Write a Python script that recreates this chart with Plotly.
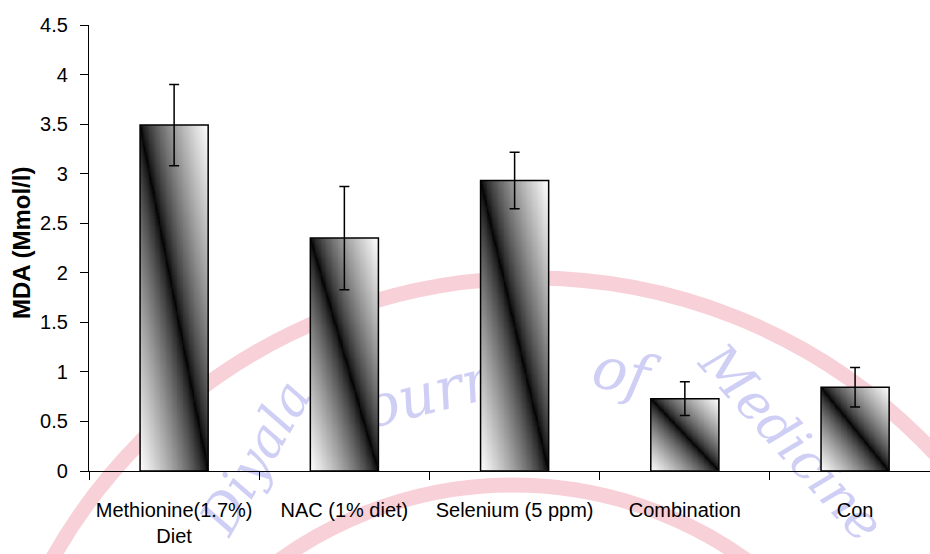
import numpy as np
import plotly.graph_objects as go

# ---- data ----
tick_labels = ["Methionine(1.7%)<br>Diet", "NAC (1% diet)", "Selenium (5 ppm)", "Combination", "Con"]
mda_values = [3.49, 2.35, 2.93, 0.73, 0.845]
mda_errors = [0.41, 0.52, 0.285, 0.17, 0.20]
y_ticks = [0, 0.5, 1, 1.5, 2, 2.5, 3, 3.5, 4, 4.5]
y_ticktext = ["0", "0.5", "1", "1.5", "2", "2.5", "3", "3.5", "4", "4.5"]

positions = list(range(len(tick_labels)))
bar_width = 0.40
x_range = [-0.5, 4.44]
FONT = "Liberation Sans, Arial, sans-serif"

fig = go.Figure()

# gradient fill of each bar (diagonal "from centre" black->white gradient)
nx, ny = 80, 240
u = (np.arange(nx) + 0.5) / nx
w = (np.arange(ny) + 0.5) / ny
dist = np.abs(u[None, :] + w[:, None] - 1.0)
shade = dist ** 0.7
for pos, val in zip(positions, mda_values):
    xe = np.linspace(pos - bar_width / 2, pos + bar_width / 2, nx + 1)
    ye = np.linspace(0, val, ny + 1)
    fig.add_trace(go.Heatmap(
        x=xe, y=ye, z=shade, zmin=0, zmax=1,
        colorscale=[[0, "black"], [1, "white"]],
        showscale=False, hoverinfo="skip", zsmooth=False,
    ))

# outlines + error bars
fig.add_trace(go.Bar(
    x=positions, y=mda_values, width=bar_width,
    marker=dict(color="rgba(0,0,0,0)", line=dict(color="black", width=1.5)),
    error_y=dict(type="data", array=mda_errors, visible=True,
                 color="black", thickness=1.5, width=5),
    hoverinfo="skip", showlegend=False,
))

# helper trace for the boundary tick axis
fig.add_trace(go.Scatter(x=[None], y=[None], xaxis="x2", showlegend=False, hoverinfo="skip"))

# ---- watermark (journal logo) ----
L, T, W, H = 89, 25, 841, 446
def px(x):
    return (x - L) / W
def py(y):
    return (T + H - y) / H

pink = "rgba(242,170,184,0.55)"
shapes = [
    dict(type="circle", xref="paper", yref="paper", layer="below",
         x0=px(532 - 550), x1=px(532 + 550), y0=py(828 + 550), y1=py(828 - 550),
         line=dict(color=pink, width=15), fillcolor="rgba(0,0,0,0)"),
    dict(type="circle", xref="paper", yref="paper", layer="below",
         x0=px(513 - 400), x1=px(513 + 400), y0=py(885 + 400), y1=py(885 - 400),
         line=dict(color=pink, width=15), fillcolor="rgba(0,0,0,0)"),
]
wm_words = [("Diyala", 252, 455, -60, 52), ("Journal", 445, 385, -14, 58),
            ("of", 622, 368, 12, 58), ("Medicine", 795, 440, 48, 52)]
lav = "rgba(175,175,240,0.6)"
for word, cx, cy, ang, sz in wm_words:
    shapes.append(dict(
        type="rect", xref="paper", yref="paper", layer="below",
        x0=px(cx - 1), x1=px(cx + 1), y0=py(cy + 1), y1=py(cy - 1),
        line=dict(width=0), fillcolor="rgba(0,0,0,0)",
        label=dict(text="<i>" + word + "</i>", textangle=ang,
                   textposition="middle center",
                   font=dict(family="DejaVu Serif, serif", size=sz, color=lav)),
    ))

fig.update_layout(
    width=930, height=554,
    margin=dict(l=L, r=0, t=T, b=554 - T - H),
    paper_bgcolor="white", plot_bgcolor="rgba(0,0,0,0)",
    showlegend=False, font=dict(family=FONT, color="black"),
    shapes=shapes,
    xaxis=dict(range=x_range, tickmode="array", tickvals=positions, ticktext=tick_labels,
               ticks="", showline=True, linecolor="black", linewidth=1.3,
               showgrid=False, zeroline=False, ticklabelstandoff=21,
               tickfont=dict(family=FONT, size=20, color="black")),
    xaxis2=dict(range=x_range, overlaying="x", anchor="y", side="bottom",
                tickmode="array", tickvals=[p - 0.5 for p in positions] + [positions[-1] + 0.5],
                ticks="outside", ticklen=8, tickwidth=1.3, tickcolor="black",
                showticklabels=False, showgrid=False, zeroline=False, showline=False),
    yaxis=dict(range=[0, 4.5], tickmode="array", tickvals=y_ticks, ticktext=y_ticktext,
               ticks="outside", ticklen=8, tickwidth=1.3, tickcolor="black",
               showline=True, linecolor="black", linewidth=1.3,
               showgrid=False, zeroline=False, ticklabelstandoff=8,
               tickfont=dict(family=FONT, size=20, color="black")),
    annotations=[dict(text="<b>MDA (Mmol/l)</b>", textangle=-90, xref="paper", yref="paper",
                      x=px(22), y=py(243), xanchor="center", yanchor="middle",
                      showarrow=False, font=dict(family=FONT, size=24, color="black"))],
)

fig.write_html("out.html", config={"displayModeBar": False},
               post_script="document.body.style.margin='0';")
